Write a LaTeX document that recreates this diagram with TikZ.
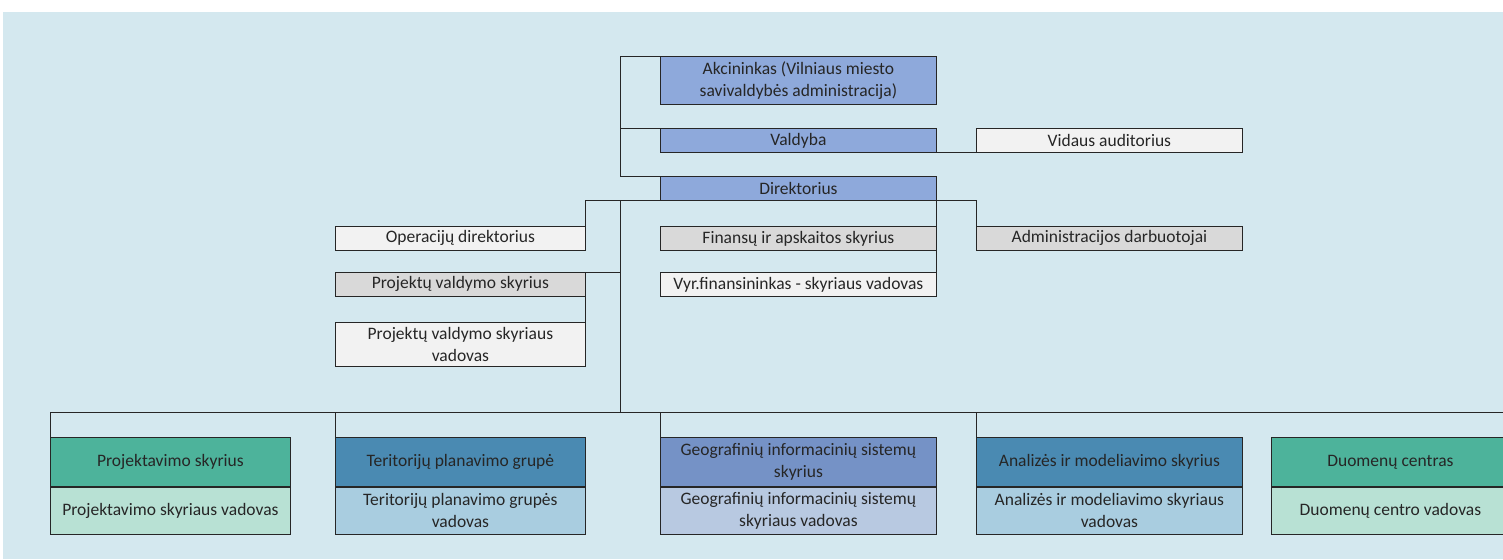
\documentclass[tikz,border=0pt]{standalone}
\usepackage{fontspec}
\setmainfont{Carlito}
\definecolor{bgblue}{HTML}{D4E8EF}
\definecolor{headblue}{HTML}{8EA9DB}
\definecolor{plaingray}{HTML}{F2F2F2}
\definecolor{deptgray}{HTML}{D9D9D9}
\definecolor{tealdark}{HTML}{4DB39B}
\definecolor{teallight}{HTML}{B8E1D4}
\definecolor{steeldark}{HTML}{4A8AB2}
\definecolor{steellight}{HTML}{A9CDE0}
\definecolor{geodark}{HTML}{7592C6}
\definecolor{geolight}{HTML}{B8C9E1}
\tikzstyle{unit}=[draw=black!85, line width=0.8pt, anchor=north west, inner sep=1pt,
	align=center, minimum height=24, text=black!85, font=\fontsize{17.5}{22}\selectfont]
\tikzstyle{head}=[unit, fill=headblue]
\tikzstyle{plain}=[unit, fill=plaingray]
\tikzstyle{dept}=[unit, fill=deptgray]
\tikzstyle{line}=[draw, line width=0.8pt, color=black!85]
\newcommand{\orgNode}[4]{node (#1) [#2, minimum width=#3]
	{#4}}

\begin{document}
\begin{tikzpicture}[x=1pt,y=-1pt]
	\useasboundingbox (0,0) rectangle (1503,559);
	\clip (0,0) rectangle (1503,559);
	\fill[bgblue] (3,12) rectangle (1503,559);

	% Top of the chart
	\path (660,56) \orgNode{akc}{head, minimum height=48}{276}{Akcininkas (Vilniaus miesto\\ savivaldybės administracija)};
	\path (660,128) \orgNode{valdyba}{head}{276}{Valdyba};
	\path (976,128) \orgNode{auditor}{plain}{266}{Vidaus auditorius};
	\path (660,176) \orgNode{direkt}{head}{276}{Direktorius};

	% Under the director
	\path (335,226) \orgNode{operac}{plain}{250}{Operacijų direktorius};
	\path (660,226) \orgNode{finans}{dept}{276}{Finansų ir apskaitos skyrius};
	\path (976,226) \orgNode{admin}{dept}{266}{Administracijos darbuotojai};
	\path (335,272) \orgNode{projv}{dept}{250}{Projektų valdymo skyrius};
	\path (660,272) \orgNode{vyrfin}{plain}{276}{Vyr.finansininkas - skyriaus vadovas};
	\path (335,322) \orgNode{projvad}{plain, minimum height=44}{250}{Projektų valdymo skyriaus\\ vadovas};

	% Departments
	\path (50,437) \orgNode{projekt}{unit, fill=tealdark, minimum height=49}{240}{Projektavimo skyrius};
	\path (projekt.south west) \orgNode{projektvad}{unit, fill=teallight, minimum height=47}{240}{Projektavimo skyriaus vadovas};
	\path (335,437) \orgNode{terit}{unit, fill=steeldark, minimum height=49}{250}{Teritorijų planavimo grupė};
	\path (terit.south west) \orgNode{teritvad}{unit, fill=steellight, minimum height=47}{250}{Teritorijų planavimo grupės\\ vadovas};
	\path (660,437) \orgNode{geo}{unit, fill=geodark, minimum height=49}{276}{Geografinių informacinių sistemų\\ skyrius};
	\path (geo.south west) \orgNode{geovad}{unit, fill=geolight, minimum height=47}{276}{Geografinių informacinių sistemų\\ skyriaus vadovas};
	\path (976,437) \orgNode{analiz}{unit, fill=steeldark, minimum height=49}{266}{Analizės ir modeliavimo skyrius};
	\path (analiz.south west) \orgNode{analizvad}{unit, fill=steellight, minimum height=47}{266}{Analizės ir modeliavimo skyriaus\\ vadovas};
	\path (1271,437) \orgNode{duomen}{unit, fill=tealdark, minimum height=49}{238}{Duomenų centras};
	\path (duomen.south west) \orgNode{duomenvad}{unit, fill=teallight, minimum height=47}{238}{Duomenų centro vadovas};

	% Draw lines between elements
	\coordinate (trunk) at (620,200);
	\coordinate (bus) at (620,412);
	\coordinate (busend) at (1503,412);
	\path [line] (akc.north west) -- ++(-40,0) |- (direkt.north west);
	\path [line] (valdyba.north west) -- ++(-40,0);
	\path [line] (valdyba.south east) -- (auditor.south west);
	\path [line] (operac.north east) |- (direkt.south) -| (admin.north west);
	\path [line] (direkt.south east) -- (vyrfin.north east);
	\path [line] (trunk) -- (bus);
	\path [line] (projv.north east) -- (projv.north east -| trunk);
	\path [line] (projv.south east) -- (projvad.north east);
	\path [line] (projekt.north west) |- (busend);
	\path [line] (terit.north west) -- (terit.north west |- bus);
	\path [line] (geo.north west) -- (geo.north west |- bus);
	\path [line] (analiz.north west) -- (analiz.north west |- bus);

\end{tikzpicture}
\end{document}
